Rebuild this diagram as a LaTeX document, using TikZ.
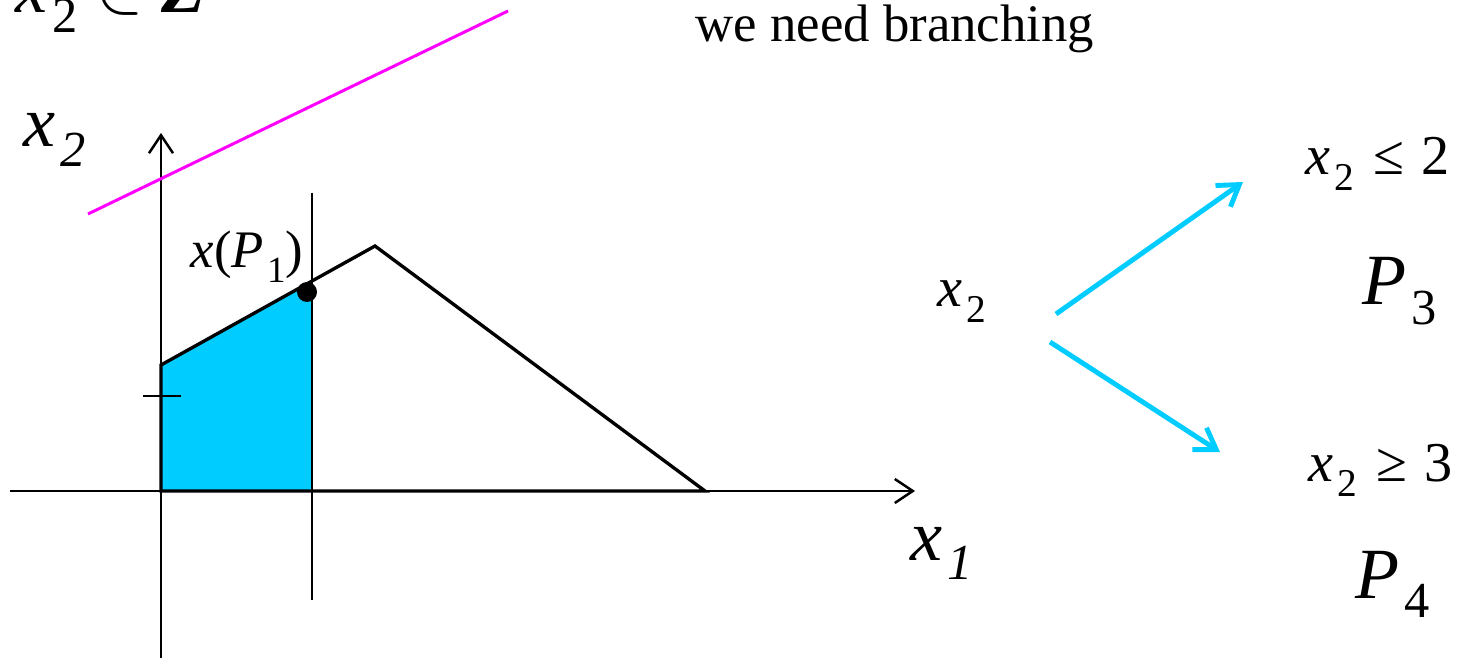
\documentclass[tikz,border=0pt]{standalone}
\usepackage{fontspec}
\setmainfont{Liberation Serif}
\usetikzlibrary{arrows.meta}
\definecolor{branchblue}{RGB}{0,204,255}
\definecolor{cutpink}{RGB}{255,0,255}
\newcommand{\sbs}[1]{\kern0.06em\raisebox{-0.6ex}{\scalebox{0.7}{#1}}}

\begin{document}
\begin{tikzpicture}[x=0.01cm,y=-0.01cm]
        \tikzset{axis/.style = {-{Straight Barb[length=1.8mm,width=2.4mm]},line width=0.7pt}}
        \tikzset{branch/.style = {-{Straight Barb[length=2mm,width=2.6mm]},branchblue,line width=1.4pt}}
        \tikzset{lbl/.style = {inner sep=0pt,anchor=base west,font=\fontsize{15}{17}\selectfont}}
        \tikzset{rel/.style = {lbl,font=\fontsize{16}{18}\selectfont}}
        \tikzset{biglbl/.style = {lbl,font=\fontsize{20.5}{24}\selectfont}}

        \useasboundingbox (0,0) rectangle (1461,658);

        % region of P1
        \fill[branchblue] (161,491) -- (161,365) -- (312,281) -- (312,491) -- cycle;

        % axes
        \draw[axis] (10,491) -- (915,491);
        \draw[axis] (161,658) -- (161,133);
        \draw[line width=0.7pt] (143,396) -- (181,396);
        \draw[line width=0.6pt] (312,193) -- (312,600);

        % feasible set
        \draw[line width=0.95pt] (161,491) -- (161,365) -- (375,246) -- (705,491) -- cycle;
        \fill (307,292) circle (10);

        % cut
        \draw[cutpink,line width=0.85pt] (88,214) -- (508,11);

        \node[biglbl] (top) at (15,13) {\textit{x}\sbs{2} $\in$ \textbf{\textit{Z}}};
        \node[lbl] (need) at (695,42) {we need branching};
        \node[biglbl] (ax2) at (23,147) {\textit{x}\sbs{\textit{2}}};
        \node[biglbl] (ax1) at (910,560) {\textit{x}\sbs{\textit{1}}};
        \node[lbl] (xp) at (190,268) {\textit{x}(\textit{P}\sbs{1})};

        \node[rel] (xtwo) at (937,307) {\textit{x}\sbs{2}};
        \node[rel] (le) at (1305,175) {\textit{x}\sbs{2}\hspace{0.35em}≤\hspace{0.3em}2};
        \node[biglbl] (p3) at (1362,305) {\textit{P}\sbs{3}};
        \node[rel] (ge) at (1308,481) {\textit{x}\sbs{2}\hspace{0.35em}≥\hspace{0.3em}3};
        \node[biglbl] (p4) at (1355,598) {\textit{P}\sbs{4}};

        \coordinate (upfrom) at (1056,314);
        \coordinate (upto) at (1243,182);
        \coordinate (downfrom) at (1050,342);
        \coordinate (downto) at (1220,452);
        \draw[branch] (upfrom) -- (upto);
        \draw[branch] (downfrom) -- (downto);
\end{tikzpicture}
\end{document}
